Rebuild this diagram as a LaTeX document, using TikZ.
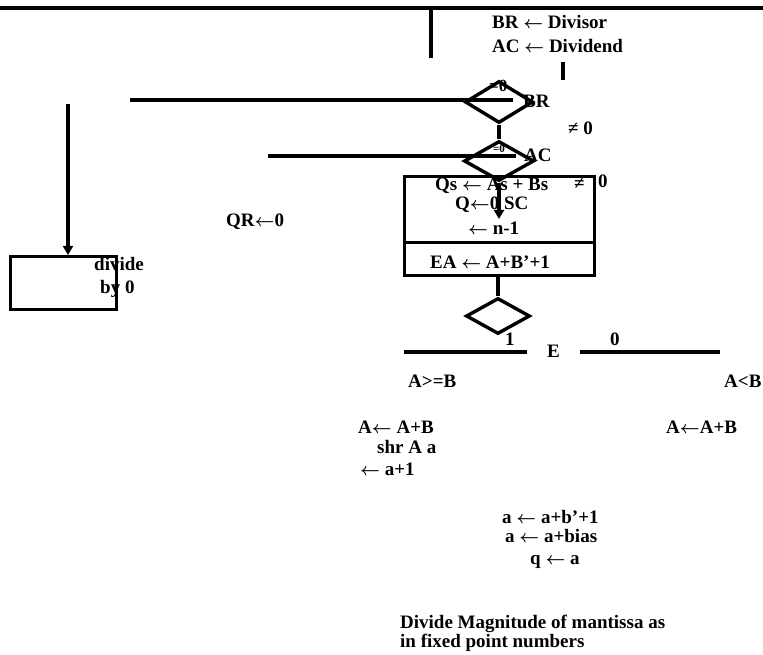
\documentclass[tikz,border=0pt]{standalone}
\usepackage{fontspec}
\setmainfont{Liberation Serif}
\usetikzlibrary{shapes.geometric,arrows.meta}
\begin{document}
\begin{tikzpicture}[x=1pt,y=-1pt,
  txt/.style={font=\fontsize{19}{19}\selectfont\bfseries\boldmath, inner sep=0pt, anchor=base west},
  small/.style={font=\fontsize{#1}{#1}\selectfont\bfseries\boldmath, inner sep=0pt, anchor=base west},
  ln/.style={line width=3.4pt},
  dia/.style 2 args={diamond, draw, ln, inner sep=0pt, minimum width=#1, minimum height=#2},
  boxx/.style 2 args={rectangle, draw, ln, inner sep=0pt, anchor=north west, minimum width=#1, minimum height=#2},
  arr/.style={ln, -{Triangle[length=9pt,width=10pt]}}]
\fill[white] (0,0) rectangle (763,655);
\useasboundingbox (0,0) rectangle (763,655);
% top lines
\coordinate (tl) at (0,8); \coordinate (tr) at (763,8);
\draw[ln] (tl) -- (tr);
\coordinate (v1t) at (431,8); \coordinate (v1b) at (431,58);
\draw[ln] (v1t) -- (v1b);
\coordinate (v2t) at (563,62); \coordinate (v2b) at (563,80);
\draw[ln] (v2t) -- (v2b);
% diamonds
\node[dia={68pt}{42pt}] (d1) at (499,102) {};
\node[dia={70pt}{40pt}] (d2) at (499,161) {};
\draw[ln] (d1.south) -- (d2.north);
\coordinate (h1l) at (130,100); \coordinate (h1r) at (513,100);
\draw[ln] (h1l) -- (h1r);
\coordinate (h2l) at (268,156); \coordinate (h2r) at (516,156);
\draw[ln] (h2l) -- (h2r);
% boxes
\node[boxx={190pt}{66pt}] (b1) at (403,175) {};
\node[boxx={190pt}{33pt}] (b2) at (403,241) {};
\coordinate (arrE) at (499,219);
\draw[arr] (d2.south) -- (arrE);
\node[dia={64pt}{36pt}] (d3) at (498,316) {};
\draw[ln] (b2.south -| d3.north) -- (d3.north);
\coordinate (e1l) at (404,352); \coordinate (e1r) at (527,352);
\draw[ln] (e1l) -- (e1r);
\coordinate (e2l) at (580,352); \coordinate (e2r) at (720,352);
\draw[ln] (e2l) -- (e2r);
% left
\coordinate (la) at (68,104);
\node[boxx={106pt}{53pt}] (dz) at (9,255) {};
\draw[arr] (la) -- (dz.north -| la);
% texts
\node[txt] (t1) at (492,29) {BR $\leftarrow$ Divisor};
\node[txt] (t2) at (492,53) {AC $\leftarrow$ Dividend};
\node[small=17] (t3) at (489,92) {=0};
\node[txt] (t4) at (523,108) {BR};
\node[txt] (t5) at (568,135) {≠ 0};
\node[small=11] (t6) at (493,153) {=0};
\node[txt] (t7) at (524,162) {AC};
\node[txt] (t8) at (435,191) {Qs $\leftarrow$ As + Bs};
\node[txt] (t9) at (574,190) {≠};
\node[txt] (t10) at (598,188) {0};
\node[txt] (t11) at (455,210) {Q$\leftarrow$0 SC};
\node[txt] (t12) at (468,234) {$\leftarrow$ n-1};
\node[txt] (t13) at (430,268) {EA $\leftarrow$ A+B’+1};
\node[txt] (t14) at (505,345) {1};
\node[txt] (t15) at (610,345) {0};
\node[txt] (t16) at (547,357) {E};
\node[txt] (t17) at (94,270) {divide};
\node[txt] (t18) at (100,293) {by 0};
\node[txt] (t19) at (226,227) {QR$\leftarrow$0};
\node[txt] (t20) at (408,387) {A>=B};
\node[txt] (t21) at (724,387) {A<B};
\node[txt] (t22) at (358,433) {A$\leftarrow$ A+B};
\node[txt] (t23) at (377,453) {shr A a};
\node[txt] (t24) at (360,475) {$\leftarrow$ a+1};
\node[txt] (t25) at (666,433) {A$\leftarrow$A+B};
\node[txt] (t26) at (502,523) {a $\leftarrow$ a+b’+1};
\node[txt] (t27) at (505,542) {a $\leftarrow$ a+bias};
\node[txt] (t28) at (530,564) {q $\leftarrow$ a};
\node[txt] (t29) at (400,628) {Divide Magnitude of mantissa as};
\node[txt] (t30) at (400,647) {in fixed point numbers};
\end{tikzpicture}
\end{document}
